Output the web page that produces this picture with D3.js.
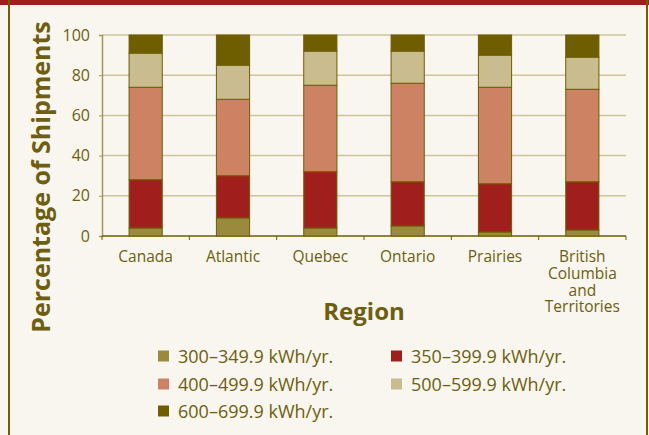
<!DOCTYPE html>
<html>
<head>
<meta charset="utf-8">
<script src="https://cdn.jsdelivr.net/npm/d3@7"></script>
<style>
  body { margin: 0; background: #f8f6ee; }
  svg text { font-family: "Open Sans", sans-serif; fill: #6e5e10; }
</style>
</head>
<body>
<svg id="chart" width="649" height="435"></svg>
<script>
var regions = ['Canada', 'Atlantic', 'Quebec', 'Ontario', 'Prairies', 'British Columbia and Territories'];
var regionLines = [['Canada'], ['Atlantic'], ['Quebec'], ['Ontario'], ['Prairies'], ['British', 'Columbia', 'and', 'Territories']];
var classes = ['300–349.9 kWh/yr.', '350–399.9 kWh/yr.', '400–499.9 kWh/yr.', '500–599.9 kWh/yr.', '600–699.9 kWh/yr.'];
var colors = ['#9a8a3e', '#a01f1d', '#cc8263', '#c9bc8f', '#6e5e00'];

// percentage of shipments per class, one array per region
var s300 = [4, 9, 4, 5, 2, 3];
var s350 = [24, 21, 28, 22, 24, 24];
var s400 = [46, 38, 43, 49, 48, 46];
var s500 = [17, 17, 17, 16, 16, 16];
var s600 = [9, 15, 8, 8, 10, 11];
var yTicks = [0, 20, 40, 60, 80, 100];

var rows = regions.map(function (r, i) {
  return { region: r, k0: s300[i], k1: s350[i], k2: s400[i], k3: s500[i], k4: s600[i] };
});
var keys = ['k0', 'k1', 'k2', 'k3', 'k4'];
var series = d3.stack().keys(keys)(rows);

var svg = d3.select('#chart');

// frame
svg.append('rect').attr('x', 0).attr('y', 0).attr('width', 649).attr('height', 5).attr('fill', '#a01f1d');
svg.append('line').attr('x1', 9).attr('x2', 9).attr('y1', 0).attr('y2', 435).attr('stroke', '#6e5e00').attr('stroke-width', 2);
svg.append('line').attr('x1', 647).attr('x2', 647).attr('y1', 0).attr('y2', 435).attr('stroke', '#6e5e00').attr('stroke-width', 2);

var plotL = 102, plotR = 626, plotT = 35, plotB = 236;

var x = d3.scaleBand().domain(regions).range([plotL, plotR]).paddingInner(0.62).paddingOuter(0.31);
var y = d3.scaleLinear().domain([0, 100]).range([plotB, plotT]);

// gridlines
svg.append('g').selectAll('line').data(yTicks.slice(1)).join('line')
  .attr('x1', plotL).attr('x2', plotR)
  .attr('y1', function (d) { return y(d); }).attr('y2', function (d) { return y(d); })
  .attr('stroke', '#cfc39a').attr('stroke-width', 1.5);

// y axis
var yAxis = svg.append('g').attr('transform', 'translate(' + plotL + ',0)')
  .call(d3.axisLeft(y).tickValues(yTicks).tickSize(3).tickPadding(9));
yAxis.select('.domain').attr('stroke', '#a4975e').attr('stroke-width', 1.5);
yAxis.selectAll('.tick line').attr('stroke', '#a4975e');
yAxis.selectAll('.tick text').attr('font-size', 16).style('fill', '#6e5e10').style('font-family', '"Open Sans", sans-serif');

// x axis with ticks at band edges
svg.append('line').attr('x1', plotL).attr('x2', plotR).attr('y1', plotB).attr('y2', plotB)
  .attr('stroke', '#6e5e00').attr('stroke-width', 1.5);
var edges = regions.map(function (r) { return x(r) - x.step() * x.paddingInner() / 2; }).concat([plotR]);
svg.append('g').selectAll('line').data(edges).join('line')
  .attr('x1', function (d) { return d; }).attr('x2', function (d) { return d; })
  .attr('y1', plotB).attr('y2', plotB + 4)
  .attr('stroke', '#6e5e00').attr('stroke-width', 1);

// bars
svg.append('g').selectAll('g').data(series).join('g')
  .attr('fill', function (d, i) { return colors[i]; })
  .selectAll('rect').data(function (d) { return d; }).join('rect')
  .attr('x', function (d) { return x(d.data.region); })
  .attr('width', x.bandwidth())
  .attr('y', function (d) { return y(d[1]); })
  .attr('height', function (d) { return y(d[0]) - y(d[1]); })
  .attr('stroke', '#6e5e00').attr('stroke-width', 1);

// category labels
var lab = svg.append('g').selectAll('text').data(regions).join('text')
  .attr('text-anchor', 'middle').attr('font-size', 15.5)
  .attr('x', function (d) { return x(d) + x.bandwidth() / 2; })
  .attr('y', 262);
lab.selectAll('tspan').data(function (d, i) { return regionLines[i]; }).join('tspan')
  .attr('x', function () { return this.parentNode.getAttribute('x'); })
  .attr('dy', function (d, i) { return i === 0 ? 0 : 16.8; })
  .text(function (d) { return d; });

// axis titles
svg.append('text').attr('x', 364).attr('y', 320).attr('text-anchor', 'middle')
  .attr('font-size', 24).attr('font-weight', 'bold').text('Region');
svg.append('text').attr('transform', 'translate(50,177) rotate(-90)').attr('text-anchor', 'middle')
  .attr('font-size', 25).attr('font-weight', 'bold').text('Percentage of Shipments');

// legend
var legPos = [[158, 356], [391, 356], [158, 384], [391, 384], [158, 411]];
var leg = svg.append('g').selectAll('g').data(classes).join('g')
  .attr('transform', function (d, i) { return 'translate(' + legPos[i][0] + ',' + legPos[i][1] + ')'; });
leg.append('rect').attr('x', 0).attr('y', -5.5).attr('width', 11).attr('height', 11)
  .attr('fill', function (d, i) { return colors[i]; });
leg.append('text').attr('x', 20).attr('y', 6.5).attr('font-size', 18).text(function (d) { return d; });
</script>
</body>
</html>
